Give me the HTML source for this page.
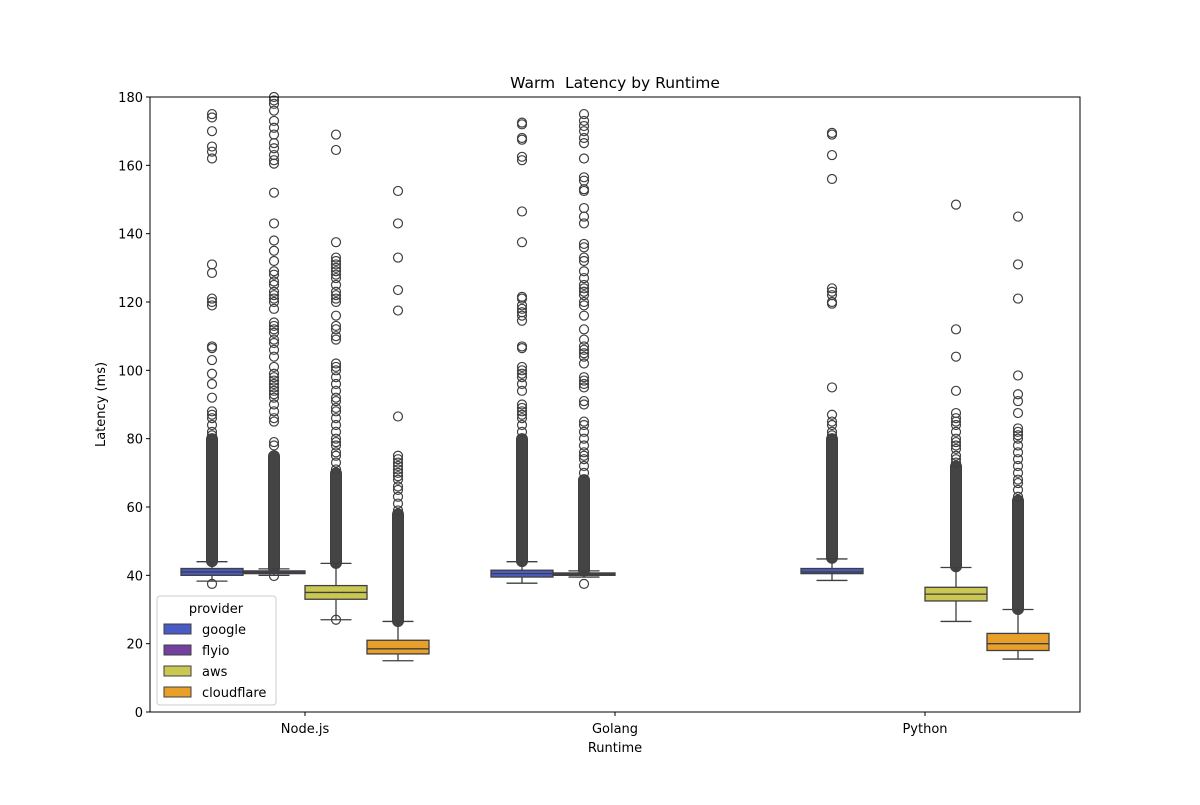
<!DOCTYPE html>
<html><head><meta charset="utf-8"><style>
body{margin:0;background:#fff;}
svg text{font-family:"DejaVu Sans","Liberation Sans",sans-serif;fill:#000;white-space:pre;}
</style></head><body>
<svg id="chart" width="1200" height="800" xmlns="http://www.w3.org/2000/svg"></svg>
<script>
const categories = ["Node.js","Golang","Python"];
const providers = ["google","flyio","aws","cloudflare"];
const colors = ["#4a5bc6","#7340a0","#cbc753","#e8a02a"];
const yTicks = [0,20,40,60,80,100,120,140,160,180];
// [category, provider, whiskerLo, q1, median, q3, whiskerHi]
const boxes = [
 [0,0,38.3,40,41,42,44],
 [0,1,40,40.5,40.9,41.3,41.9],
 [0,2,27,33,35,37,43.5],
 [0,3,15,17,18.5,21,26.5],
 [1,0,37.7,39.5,40.5,41.5,44],
 [1,1,39.5,40,40.3,40.7,41.3],
 [2,0,38.5,40.5,41,42,44.8],
 [2,2,26.5,32.5,34.5,36.5,42.3],
 [2,3,15.5,18,20,23,30]
];
// dense outlier ranges [lo, hi] per box (same order as boxes)
const denseRanges = [[44,80],[42,75],[43.5,70],[26.5,58],[44,80],[41.3,68],[45,80],[42.5,72],[30,62]];
const sparseOutliers = [
 [37.5,81,82,84,86,87,88,92,96,99,103,106.5,107,119,120,121,128.5,131,162,164,165.5,170,174,175],
 [39.8,78,79,85,86,88,90,92,93,94,95,96,97,98,99,101,104,106,108,109,111,112,113,114,118,120,121,122,123,125,126,128,129,132,135,138,143,152,160.5,161.5,163,165,166.5,169,171,173,176,178,179,180],
 [27,71,73,75,76,78,79,80,82,84,86,88,89,91,92,94,96,98,100,101,102,109,110,112,113,116,120,121,122,123,125,127,128,129,130,131,132,133,137.5,164.5,169],
 [59,61,63,65,66,68,69,70,71,72,73,74,75,86.5,117.5,123.5,133,143,152.5],
 [82,84,86,87,88,89,90,94,96,98,99,100,101,106.5,107,114.5,116,117,118,119,121,121.5,137.5,146.5,161.5,162.5,167.5,168,172,172.5],
 [37.5,70,72,74,75,76,78,80,82,84,85,90,91,95,96,97,98,102,104,105,106,107,109,112,116,119,120,122,123,124,125,127,129,132,133,136,137,143,145,147.5,152.5,153,155.5,156.5,162,166.5,168,170,171.5,173,175],
 [81,82,84,85,87,95,119.5,120,122,123,124,156,163,169,169.5],
 [73,74,75,77,78,79,80,82,84,85,86,87.5,94,104,112,148.5],
 [63,65,67,68,70,72,74,76,78,80,81,82,83,87.5,91,93,98.5,121,131,145]
];
const L=150,R=1080,T=97,B=712,yMax=180;
const svg=document.getElementById('chart');
const NS='http://www.w3.org/2000/svg';
function y(v){return B-(v/yMax)*(B-T);}
const catW=(R-L)/categories.length;
function xc(c){return L+catW*(c+0.5);}
const hueW=catW*0.8/providers.length;
function xb(c,p){return xc(c)-catW*0.4+hueW*(p+0.5);}
function mk(tag,attrs,parent){const e=document.createElementNS(NS,tag);for(const k in attrs)e.setAttribute(k,attrs[k]);(parent||svg).appendChild(e);return e;}
const title=mk('text',{x:(L+R)/2,y:88,'text-anchor':'middle','font-size':15.5});
title.textContent='Warm  Latency by Runtime';


yTicks.forEach(t=>{
  const ln=mk('line',{x1:L-4,x2:L,y1:y(t),y2:y(t),stroke:'#000'});
  
  
  const tx=mk('text',{x:L-7,y:y(t)+5,'text-anchor':'end','font-size':13});
  tx.textContent=t;
  
  
});
categories.forEach((c,i)=>{
  const ln=mk('line',{x1:xc(i),x2:xc(i),y1:B,y2:B+4,stroke:'#000'});
  
  
  const tx=mk('text',{x:xc(i),y:B+21,'text-anchor':'middle','font-size':13});
  tx.textContent=c;
  
  
});
const xt=mk('text',{x:(L+R)/2,y:752,'text-anchor':'middle','font-size':13});
xt.textContent='Runtime';


const yt=mk('text',{x:0,y:0,'text-anchor':'middle','font-size':13,transform:`translate(105,${(T+B)/2}) rotate(-90)`});
yt.textContent='Latency (ms)';


const ec='#3f3f3f';
boxes.forEach((b,i)=>{
  const [c,p,wl,q1,md,q3,wh]=b;
  const cx=xb(c,p), bw=hueW;
  const g=mk('g',{});
  
  
  const d=denseRanges[i];
  mk('rect',{x:cx-5.5,y:y(d[1])-5,width:11,height:y(d[0])-y(d[1])+10,rx:5.5,fill:'#444',stroke:ec,'stroke-width':1},g);
  sparseOutliers[i].forEach(v=>{
    mk('circle',{cx:cx,cy:y(v),r:4.5,fill:'none',stroke:ec,'stroke-width':1.2},g);
  });
  mk('line',{x1:cx,x2:cx,y1:y(wh),y2:y(q3),stroke:ec,'stroke-width':1.3},g);
  mk('line',{x1:cx,x2:cx,y1:y(q1),y2:y(wl),stroke:ec,'stroke-width':1.3},g);
  mk('line',{x1:cx-bw/4,x2:cx+bw/4,y1:y(wh),y2:y(wh),stroke:ec,'stroke-width':1.3},g);
  mk('line',{x1:cx-bw/4,x2:cx+bw/4,y1:y(wl),y2:y(wl),stroke:ec,'stroke-width':1.3},g);
  mk('rect',{x:cx-bw/2,y:y(q3),width:bw,height:Math.max(y(q1)-y(q3),1),fill:colors[p],stroke:ec,'stroke-width':1.3},g);
  mk('line',{x1:cx-bw/2,x2:cx+bw/2,y1:y(md),y2:y(md),stroke:ec,'stroke-width':1.3},g);
});
const frame=mk('rect',{x:L,y:T,width:R-L,height:B-T,fill:'none',stroke:'#000','stroke-width':1});


const lg=mk('g',{});


mk('rect',{x:157,y:596,width:119,height:109,rx:3,fill:'#fff','fill-opacity':0.8,stroke:'#ccc'},lg);
const lt=mk('text',{x:216,y:613,'text-anchor':'middle','font-size':13},lg);
lt.textContent='provider';
providers.forEach((p,i)=>{
  const e=mk('g',{},lg);
  
  
  const yy=624+i*21;
  mk('rect',{x:164,y:yy,width:27,height:10,fill:colors[i],stroke:ec,'stroke-width':1},e);
  const t=mk('text',{x:202,y:yy+10,'font-size':13},e);
  t.textContent=p;
});
</script>
</body></html>
